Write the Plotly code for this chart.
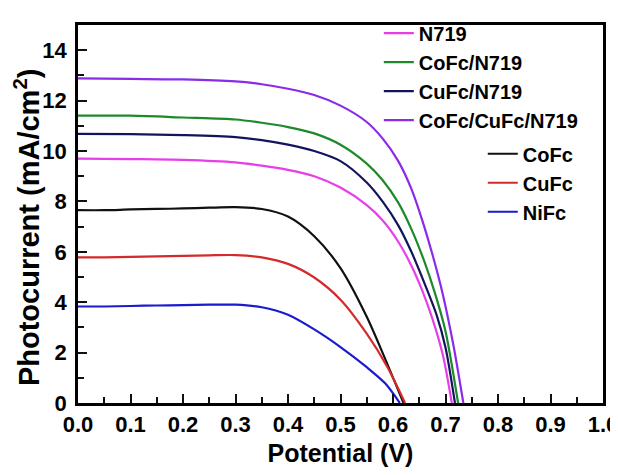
import plotly.graph_objects as go

# ---- Data ----
v_n719 = [0, 0.1, 0.2, 0.3, 0.35, 0.4, 0.45, 0.5, 0.55, 0.58, 0.61, 0.635, 0.655, 0.675, 0.695, 0.712]
j_n719 = [9.7, 9.68, 9.65, 9.55, 9.42, 9.25, 9.0, 8.55, 7.85, 7.25, 6.4, 5.45, 4.5, 3.35, 1.9, 0]

v_cofc_n719 = [0, 0.1, 0.2, 0.3, 0.35, 0.4, 0.45, 0.5, 0.55, 0.58, 0.61, 0.635, 0.66, 0.68, 0.7, 0.724]
j_cofc_n719 = [11.4, 11.4, 11.33, 11.25, 11.12, 10.95, 10.7, 10.25, 9.5, 8.85, 7.95, 6.9, 5.6, 4.35, 2.85, 0]

v_cufc_n719 = [0, 0.1, 0.2, 0.3, 0.35, 0.4, 0.45, 0.5, 0.55, 0.58, 0.61, 0.635, 0.66, 0.683, 0.7, 0.718]
j_cufc_n719 = [10.68, 10.67, 10.63, 10.55, 10.43, 10.25, 10.0, 9.6, 8.75, 8.0, 7.05, 6.0, 4.75, 3.5, 2.2, 0]

v_all = [0, 0.1, 0.2, 0.3, 0.35, 0.4, 0.45, 0.5, 0.55, 0.58, 0.61, 0.635, 0.655, 0.675, 0.695, 0.715, 0.734]
j_all = [12.88, 12.86, 12.84, 12.76, 12.65, 12.47, 12.22, 11.8, 11.15, 10.5, 9.6, 8.5, 7.3, 5.9, 4.3, 2.3, 0]

v_cofc = [0, 0.05, 0.1, 0.15, 0.2, 0.25, 0.3, 0.35, 0.4, 0.45, 0.5, 0.55, 0.585, 0.62]
j_cofc = [7.65, 7.65, 7.68, 7.7, 7.72, 7.75, 7.77, 7.7, 7.4, 6.62, 5.35, 3.42, 1.75, 0]

v_cufc = [0, 0.05, 0.1, 0.15, 0.2, 0.25, 0.3, 0.35, 0.4, 0.45, 0.5, 0.55, 0.59, 0.623]
j_cufc = [5.78, 5.78, 5.8, 5.82, 5.84, 5.86, 5.87, 5.78, 5.52, 4.98, 4.1, 2.75, 1.4, 0]

v_nifc = [0, 0.05, 0.1, 0.15, 0.2, 0.25, 0.3, 0.35, 0.4, 0.45, 0.5, 0.55, 0.585, 0.613]
j_nifc = [3.83, 3.83, 3.85, 3.87, 3.88, 3.9, 3.9, 3.8, 3.5, 2.92, 2.22, 1.42, 0.78, 0]

x_ticks = [0.0, 0.1, 0.2, 0.3, 0.4, 0.5, 0.6, 0.7, 0.8, 0.9, 1.0]
x_minor = [0.05, 0.15, 0.25, 0.35, 0.45, 0.55, 0.65, 0.75, 0.85, 0.95]
y_ticks = [0, 2, 4, 6, 8, 10, 12, 14]
y_minor = [1, 3, 5, 7, 9, 11, 13]

series_top = [
    ("N719", v_n719, j_n719, "#e83ee8"),
    ("CoFc/N719", v_cofc_n719, j_cofc_n719, "#1c8a2a"),
    ("CuFc/N719", v_cufc_n719, j_cufc_n719, "#14145e"),
    ("CoFc/CuFc/N719", v_all, j_all, "#8a2be8"),
]
series_bottom = [
    ("CoFc", v_cofc, j_cofc, "#111111"),
    ("CuFc", v_cufc, j_cufc, "#d42a2a"),
    ("NiFc", v_nifc, j_nifc, "#1a1ad0"),
]

FONT = "Liberation Sans, Arial, sans-serif"
TICK_COLOR = "#111111"

fig = go.Figure()
for name, v, j, c in series_top:
    fig.add_trace(go.Scatter(x=v, y=j, mode="lines", name=name,
                             line=dict(color=c, width=2.2, shape="spline", smoothing=0.8),
                             legend="legend"))
for name, v, j, c in series_bottom:
    fig.add_trace(go.Scatter(x=v, y=j, mode="lines", name=name,
                             line=dict(color=c, width=2.2, shape="spline", smoothing=0.8),
                             legend="legend2"))

axis_common = dict(
    showline=True, linecolor="black", linewidth=2.5, mirror=True,
    ticks="inside", tickcolor=TICK_COLOR, tickwidth=2, ticklen=9,
    showgrid=False, zeroline=False, automargin=False, layer="above traces",
    ticklabeloverflow="allow",
    tickfont=dict(family=FONT, size=22, color="black", weight="bold"),
)

# The page body has an 8px default margin; margins are shifted so the
# plot area lands where it is in the reference.
fig.update_layout(
    width=618, height=459,
    margin=dict(l=70, r=23, t=6, b=64),
    paper_bgcolor="white", plot_bgcolor="white",
    font=dict(family=FONT, color="black"),
    showlegend=True,
    xaxis=dict(range=[0, 1.0], tickvals=x_ticks, ticktext=[f"{t:.1f}" for t in x_ticks],
               minor=dict(tickvals=x_minor, ticks="inside", ticklen=6, tickwidth=2, tickcolor=TICK_COLOR, showgrid=False),
               ticklabelstandoff=0,
               title=dict(text="Potential (V)", font=dict(family=FONT, size=25, color="black", weight="bold"), standoff=14),
               **axis_common),
    yaxis=dict(range=[0, 15], tickvals=y_ticks,
               minor=dict(tickvals=y_minor, ticks="inside", ticklen=6, tickwidth=2, tickcolor=TICK_COLOR, showgrid=False),
               ticklabelstandoff=4,
               **axis_common),
    annotations=[dict(
        text="Photocurrent (mA/cm<sup>2</sup>)", textangle=-90,
        xref="paper", yref="paper", x=-0.097, y=0.463,
        xanchor="center", yanchor="middle", showarrow=False,
        font=dict(family=FONT, size=29, color="black", weight="bold"),
    )],
    legend=dict(x=0.573, y=1.03, xanchor="left", yanchor="top",
                bgcolor="rgba(0,0,0,0)", borderwidth=0,
                font=dict(family=FONT, size=20, color="black", weight="bold"),
                itemwidth=30, tracegroupgap=0),
    legend2=dict(x=0.771, y=0.711, xanchor="left", yanchor="top",
                 bgcolor="rgba(0,0,0,0)", borderwidth=0,
                 font=dict(family=FONT, size=20, color="black", weight="bold"),
                 itemwidth=30, tracegroupgap=0),
)

fig.write_html("out.html")
